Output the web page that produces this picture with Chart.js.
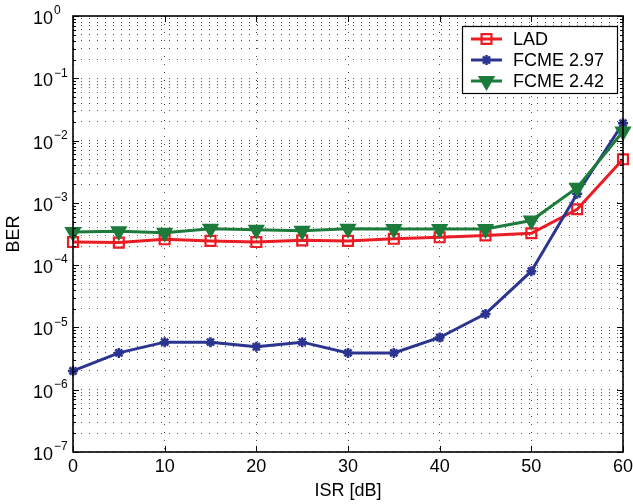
<!DOCTYPE html>
<html>
<head>
<meta charset="utf-8">
<script src="https://cdn.jsdelivr.net/npm/chart.js@4/dist/chart.umd.min.js"></script>
<style>
  html, body { margin: 0; padding: 0; background: #fff; }
  canvas { display: block; }
</style>
</head>
<body>
<canvas id="ber" width="633" height="504"></canvas>
<script>
// BER vs ISR for the LAD and FCME detectors (log y axis, MATLAB-like frame).
const isr = [0, 5, 10, 15, 20, 25, 30, 35, 40, 45, 50, 55, 60];
const berLad = [2.35e-4, 2.3e-4, 2.6e-4, 2.45e-4, 2.35e-4, 2.5e-4, 2.45e-4, 2.65e-4, 2.8e-4, 3.0e-4, 3.25e-4, 7.9e-4, 5.0e-3];
const berFcme297 = [2.0e-6, 3.9e-6, 5.8e-6, 5.8e-6, 4.9e-6, 5.8e-6, 3.9e-6, 3.9e-6, 6.9e-6, 1.65e-5, 8.0e-5, 1.4e-3, 1.9e-2];
const berFcme242 = [3.4e-4, 3.5e-4, 3.3e-4, 3.85e-4, 3.7e-4, 3.55e-4, 3.85e-4, 3.8e-4, 3.8e-4, 3.8e-4, 5.2e-4, 1.75e-3, 1.4e-2];
const seriesNames = ["LAD", "FCME 2.97", "FCME 2.42"];
const xTicks = [0, 10, 20, 30, 40, 50, 60];
const yDecades = [-7, -6, -5, -4, -3, -2, -1, 0];

const FONT = '"Liberation Sans", Arial, Helvetica, sans-serif';
const COLORS = { lad: "#ec1c24", fcme297: "#2b3590", fcme242: "#1c7b3b" };

// marker styles shared by the plotted series and the legend samples
const MARKERS = [
  { color: COLORS.lad, pointStyle: "rect", radius: 7, borderWidth: 2.2, fill: "rgba(0,0,0,0)", rotation: 0 },
  { color: COLORS.fcme297, pointStyle: "star", radius: 5, borderWidth: 2.5, fill: COLORS.fcme297, rotation: 0 },
  { color: COLORS.fcme242, pointStyle: "triangle", radius: 8.5, borderWidth: 1.5, fill: COLORS.fcme242, rotation: 180 },
];

function series(i, data, order) {
  const m = MARKERS[i];
  return {
    label: seriesNames[i], data: isr.map((x, k) => ({ x, y: data[k] })),
    borderColor: m.color, backgroundColor: m.fill, borderWidth: 3, tension: 0,
    pointStyle: m.pointStyle, pointRadius: m.radius, pointRotation: m.rotation,
    pointBorderWidth: m.borderWidth, pointBorderColor: m.color, pointBackgroundColor: m.fill,
    clip: false, order,
  };
}

function exponent(e) { return e < 0 ? "\u2212" + (-e) : String(e); }

// frame, inward ticks, 10^n labels and the boxed legend
const matlabAxes = {
  id: "matlabAxes",
  afterDraw(chart) {
    const { ctx, chartArea: a, scales: { x, y } } = chart;
    ctx.save();
    ctx.strokeStyle = "#000";
    ctx.lineWidth = 1;
    ctx.beginPath();
    xTicks.forEach(v => {
      const px = Math.round(x.getPixelForValue(v)) + 0.5;
      ctx.moveTo(px, a.bottom); ctx.lineTo(px, a.bottom - 6);
      ctx.moveTo(px, a.top); ctx.lineTo(px, a.top + 6);
    });
    yDecades.forEach(e => {
      for (let k = 1; k <= 9; k++) {
        if (e === 0 && k > 1) break;
        const py = Math.round(y.getPixelForValue(k * Math.pow(10, e))) + 0.5;
        const len = k === 1 ? 6 : 3;
        ctx.moveTo(a.left, py); ctx.lineTo(a.left + len, py);
        ctx.moveTo(a.right, py); ctx.lineTo(a.right - len, py);
      }
    });
    ctx.stroke();
    ctx.lineWidth = 1.6;
    ctx.strokeRect(Math.round(a.left), Math.round(a.top), Math.round(a.right - a.left), Math.round(a.bottom - a.top));

    ctx.fillStyle = "#000";
    ctx.textBaseline = "middle";
    yDecades.forEach(e => {
      const py = y.getPixelForValue(Math.pow(10, e));
      ctx.font = "18px " + FONT;
      ctx.textAlign = "right";
      ctx.fillText("10", 53, py + 3);
      ctx.font = "12px " + FONT;
      ctx.textAlign = "left";
      ctx.fillText(exponent(e), 54, py - 5);
    });

    // legend
    const box = { left: 462, top: 26, width: 155, height: 67 };
    const rows = [39, 60, 81];
    ctx.fillStyle = "#fff";
    ctx.fillRect(box.left, box.top, box.width, box.height);
    ctx.strokeStyle = "#000";
    ctx.lineWidth = 1.2;
    ctx.strokeRect(box.left + 0.5, box.top + 0.5, box.width, box.height);
    seriesNames.forEach((name, i) => {
      const m = MARKERS[i];
      const ry = rows[i];
      ctx.strokeStyle = m.color;
      ctx.lineWidth = 3;
      ctx.beginPath();
      ctx.moveTo(471, ry); ctx.lineTo(502, ry);
      ctx.stroke();
      ctx.fillStyle = m.fill;
      ctx.lineWidth = m.borderWidth;
      Chart.helpers.drawPoint(ctx, { pointStyle: m.pointStyle, rotation: m.rotation, radius: m.radius, borderWidth: m.borderWidth }, 486.5, ry);
      ctx.fillStyle = "#000";
      ctx.font = "18px " + FONT;
      ctx.textAlign = "left";
      ctx.fillText(name, 513, ry + 1);
    });
    ctx.restore();
  },
};

const dottedGrid = { color: "rgba(0,0,0,0.7)", lineWidth: 1, drawTicks: false };
const dottedBorder = { display: false, dash: [1, 7] };

new Chart(document.getElementById("ber"), {
  type: "line",
  data: {
    datasets: [
      series(0, berLad, 2),
      series(1, berFcme297, 1),
      series(2, berFcme242, 0),
    ],
  },
  options: {
    responsive: false,
    animation: false,
    layout: { padding: { left: 0, top: 16, right: 8, bottom: 0 } },
    plugins: { legend: { display: false }, tooltip: { enabled: false } },
    scales: {
      x: {
        type: "linear", min: 0, max: 60,
        ticks: { stepSize: 10, color: "#000", font: { family: FONT, size: 18 }, padding: 4, maxRotation: 0 },
        grid: dottedGrid, border: dottedBorder,
        title: { display: true, text: "ISR [dB]", color: "#000", font: { family: FONT, size: 18 }, padding: { top: 0, bottom: 2 } },
        afterFit(s) { s.height = 52; s.paddingLeft = 0; s.paddingRight = 0; },
      },
      y: {
        type: "logarithmic", min: 1e-7, max: 1,
        ticks: { display: false },
        afterBuildTicks(s) {
          const t = [];
          yDecades.forEach(e => {
            for (let k = 1; k <= 9; k++) {
              if (e === 0 && k > 1) break;
              t.push({ value: k * Math.pow(10, e), major: k === 1 });
            }
          });
          s.ticks = t;
        },
        grid: dottedGrid, border: dottedBorder,
        title: { display: true, text: "BER", color: "#000", font: { family: FONT, size: 18 }, padding: { top: 3, bottom: 0 } },
        afterFit(s) { s.width = 73; s.paddingTop = 0; s.paddingBottom = 0; },
      },
    },
  },
  plugins: [matlabAxes],
});
</script>
</body>
</html>
